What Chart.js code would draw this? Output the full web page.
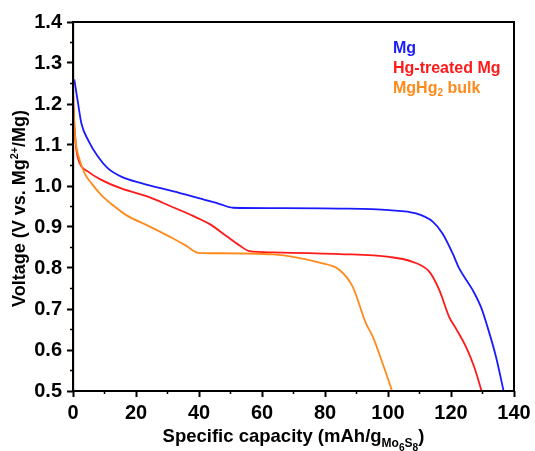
<!DOCTYPE html>
<html lang="en">
<head>
    <meta charset="UTF-8">
    <title>Discharge curves</title>
    <script src="https://cdn.jsdelivr.net/npm/chart.js"></script>
    <style>
        body { margin: 0; background: #fff; }
        #wrap { width: 535px; height: 451px; }
    </style>
</head>
<body>
    <div id="wrap"><canvas id="chart" width="535" height="451"></canvas></div>

    <script>
        // Data (capacity in mAh/g, voltage in V)
        const mgCap = [0.4, 1.6, 2.65, 4.8, 7.9, 11.1, 15.3, 21.7, 32.3, 40.2, 46.6, 50.8, 63.5, 84.6, 100.4, 108.9, 114.2, 117.3, 120.5, 122.6, 126.9, 129.5, 131.6, 134.3, 136.7];
        const mgVolt = [1.26, 1.202, 1.153, 1.112, 1.072, 1.043, 1.023, 1.007, 0.986, 0.970, 0.956, 0.947, 0.946, 0.945, 0.941, 0.933, 0.913, 0.884, 0.836, 0.799, 0.746, 0.705, 0.656, 0.583, 0.5];

        const hgCap = [0.15, 0.5, 1.07, 2.1, 4.8, 9.0, 15.3, 23.8, 31.2, 38.1, 43.4, 48.7, 52.9, 56.0, 63.5, 84.6, 100.4, 107.8, 113.1, 116.3, 119.4, 121.6, 124.8, 127.4, 129.7];
        const hgVolt = [1.19, 1.14, 1.088, 1.056, 1.035, 1.015, 0.994, 0.974, 0.950, 0.927, 0.907, 0.878, 0.855, 0.841, 0.838, 0.834, 0.827, 0.815, 0.791, 0.746, 0.681, 0.652, 0.607, 0.558, 0.5];

        const bulkCap = [0.1, 0.5, 1.07, 2.1, 3.7, 5.8, 9.0, 13.2, 16.9, 24.4, 31.8, 36.0, 39.7, 44.5, 63.5, 70.8, 78.2, 84.6, 88.8, 93.0, 95.2, 98.3, 101.3];
        const bulkVolt = [1.22, 1.14, 1.096, 1.064, 1.031, 1.007, 0.978, 0.950, 0.929, 0.901, 0.872, 0.854, 0.837, 0.836, 0.833, 0.826, 0.813, 0.795, 0.754, 0.665, 0.632, 0.567, 0.5];

        // vertical charge segment at zero capacity
        const startCap = [0, 0];
        const startVolt = [0.5, 1.4];

        const xTicks = [0, 20, 40, 60, 80, 100, 120, 140];
        const yTicks = [0.5, 0.6, 0.7, 0.8, 0.9, 1.0, 1.1, 1.2, 1.3, 1.4];

        const FONT = '"Liberation Sans", Arial, sans-serif';

        function toPoints(xs, ys) {
            return xs.map((x, i) => ({ x: x, y: ys[i] }));
        }

        function series(label, xs, ys, color, width) {
            return {
                label: label,
                data: toPoints(xs, ys),
                borderColor: color,
                borderWidth: width,
                pointRadius: 0,
                fill: false,
                cubicInterpolationMode: 'monotone'
            };
        }

        // draw a run of text pieces with sub/superscripts, centred on x
        function drawRich(ctx, parts, cx, baseY, size) {
            let total = 0;
            parts.forEach(p => {
                ctx.font = 'bold ' + (size * (p.s || 1)) + 'px ' + FONT;
                p.w = ctx.measureText(p.t).width;
                total += p.w;
            });
            let x = cx - total / 2;
            parts.forEach(p => {
                ctx.font = 'bold ' + (size * (p.s || 1)) + 'px ' + FONT;
                ctx.fillText(p.t, x, baseY + (p.dy || 0));
                x += p.w;
            });
        }

        const decorations = {
            id: 'decorations',
            afterDraw(chart) {
                const ctx = chart.ctx;
                const area = chart.chartArea;
                const xs = chart.scales.x;
                const ys = chart.scales.y;
                ctx.save();

                // frame
                ctx.strokeStyle = '#000';
                ctx.lineWidth = 2;
                ctx.strokeRect(area.left, area.top, area.right - area.left, area.bottom - area.top);

                // minor ticks
                ctx.lineWidth = 1.5;
                ctx.beginPath();
                for (let i = 0; i < xTicks.length - 1; i++) {
                    const px = xs.getPixelForValue((xTicks[i] + xTicks[i + 1]) / 2);
                    ctx.moveTo(px, area.bottom);
                    ctx.lineTo(px, area.bottom + 3);
                }
                for (let i = 0; i < yTicks.length - 1; i++) {
                    const py = ys.getPixelForValue((yTicks[i] + yTicks[i + 1]) / 2);
                    ctx.moveTo(area.left, py);
                    ctx.lineTo(area.left - 3, py);
                }
                ctx.stroke();

                // axis titles
                ctx.fillStyle = '#000';
                ctx.textAlign = 'left';
                ctx.textBaseline = 'alphabetic';
                drawRich(ctx, [
                    { t: 'Specific capacity (mAh/g' },
                    { t: 'Mo', s: 0.65, dy: 5 },
                    { t: '6', s: 0.55, dy: 9 },
                    { t: 'S', s: 0.65, dy: 5 },
                    { t: '8', s: 0.55, dy: 9 },
                    { t: ')' }
                ], (area.left + area.right) / 2, 442, 18.5);

                ctx.save();
                ctx.translate(25, (area.top + area.bottom) / 2 + 2);
                ctx.rotate(-Math.PI / 2);
                drawRich(ctx, [
                    { t: 'Voltage (V vs. Mg' },
                    { t: '2+', s: 0.6, dy: -7 },
                    { t: '/Mg)' }
                ], 0, 0, 18);
                ctx.restore();

                // legend
                const lx = 393;
                ctx.font = 'bold 16px ' + FONT;
                ctx.fillStyle = '#1a1aff';
                ctx.fillText('Mg', lx, 53);
                ctx.fillStyle = '#ff1a1a';
                ctx.fillText('Hg-treated Mg', lx, 73);
                ctx.fillStyle = '#ff8a1c';
                let x = lx;
                ctx.fillText('MgHg', x, 93);
                x += ctx.measureText('MgHg').width;
                ctx.font = 'bold 10px ' + FONT;
                ctx.fillText('2', x, 96);
                x += ctx.measureText('2').width;
                ctx.font = 'bold 16px ' + FONT;
                ctx.fillText(' bulk', x, 93);

                ctx.restore();
            }
        };

        new Chart(document.getElementById('chart'), {
            type: 'line',
            data: {
                datasets: [
                    series('start', startCap, startVolt, '#9a5a1e', 2.5),
                    series('MgHg2 bulk', bulkCap, bulkVolt, '#ff8a1c', 1.8),
                    series('Hg-treated Mg', hgCap, hgVolt, '#ff1a1a', 1.8),
                    series('Mg', mgCap, mgVolt, '#1a1aff', 1.8)
                ]
            },
            options: {
                responsive: false,
                animation: false,
                layout: { padding: { top: 22, right: 21, left: 0, bottom: 0 } },
                plugins: {
                    legend: { display: false },
                    tooltip: { enabled: false }
                },
                scales: {
                    x: {
                        type: 'linear',
                        min: 0,
                        max: 140,
                        afterFit(scale) { scale.height = 60; },
                        afterBuildTicks(scale) { scale.ticks = xTicks.map(v => ({ value: v })); },
                        ticks: {
                            color: '#000',
                            font: { family: FONT, size: 20, weight: 'bold' },
                            padding: 4,
                            maxRotation: 0,
                            autoSkip: false
                        },
                        grid: { drawOnChartArea: false, tickLength: 6, tickWidth: 2, tickColor: '#000' },
                        border: { display: false }
                    },
                    y: {
                        min: 0.5,
                        max: 1.4,
                        afterFit(scale) { scale.width = 73; },
                        afterBuildTicks(scale) { scale.ticks = yTicks.map(v => ({ value: v })); },
                        ticks: {
                            color: '#000',
                            font: { family: FONT, size: 20, weight: 'bold' },
                            padding: 5,
                            autoSkip: false,
                            callback: v => v.toFixed(1)
                        },
                        grid: { drawOnChartArea: false, tickLength: 6, tickWidth: 2, tickColor: '#000' },
                        border: { display: false }
                    }
                }
            },
            plugins: [decorations]
        });
    </script>
</body>
</html>
